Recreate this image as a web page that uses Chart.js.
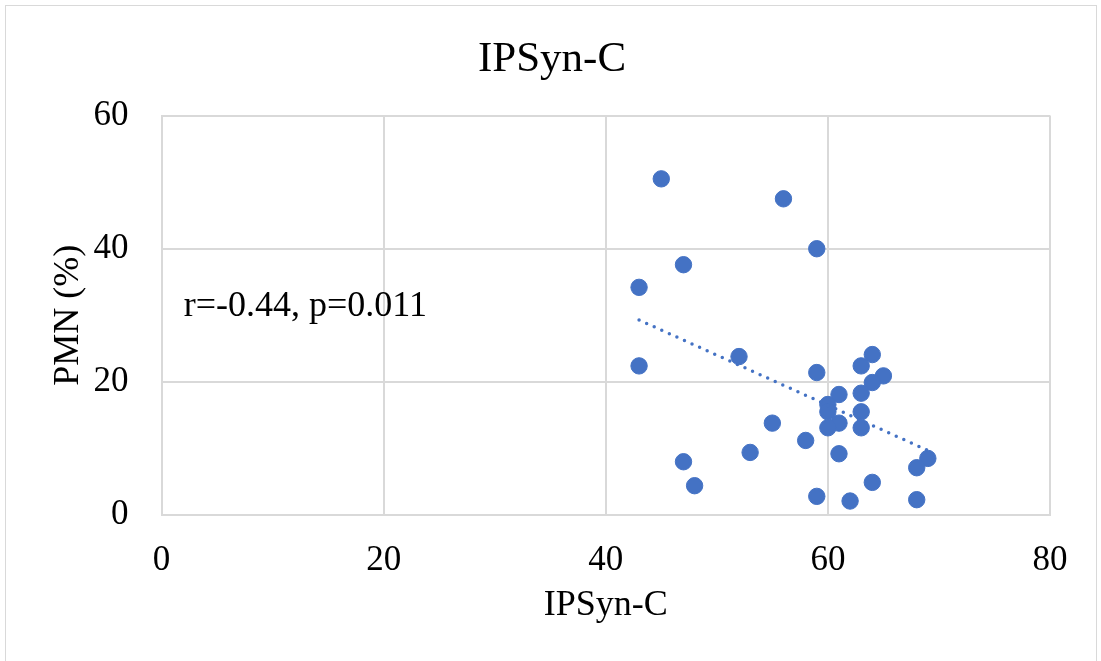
<!DOCTYPE html>
<html>
<head>
<meta charset="utf-8">
<title>IPSyn-C</title>
<script src="https://cdn.jsdelivr.net/npm/chart.js@4.4.0/dist/chart.umd.min.js"></script>
<style>
    html, body { margin: 0; padding: 0; background: #fff; }
    #frame {
        position: absolute; left: 5px; top: 5px; width: 1092px; height: 700px;
        border: 1.5px solid #d9d9d9; box-sizing: border-box;
    }
    #wrap { position: absolute; left: 0; top: 0; width: 1101px; height: 661px; }
</style>
</head>
<body>
<div id="frame"></div>
<div id="wrap"><canvas id="chart" width="1101" height="661"></canvas></div>
<script>
(function () {
    'use strict';

    // IPSyn-C score vs PMN (%) per child
    const ipsyn = [45, 56, 59, 47, 43, 43, 52, 59, 64, 63, 65, 64, 63, 61, 60, 60, 63,
                   61, 60, 63, 55, 58, 53, 61, 47, 48, 69, 68, 64, 59, 62, 68];
    const pmn   = [50.5, 47.5, 40, 37.6, 34.2, 22.4, 23.8, 21.4, 24.1, 22.4, 20.9, 19.9, 18.3,
                   18.1, 16.6, 15.5, 15.5, 13.8, 13.1, 13.1, 13.8, 11.2, 9.4, 9.2, 8.0, 4.4,
                   8.5, 7.1, 4.9, 2.8, 2.1, 2.3];

    // linear trendline ends as drawn in the picture
    const trendX = [43, 69];
    const trendY = [29.3, 9.7];

    const xTicks = [0, 20, 40, 60, 80];
    const yTicks = [0, 20, 40, 60];
    const stats = 'r=-0.44, p=0.011';

    const serif = "'Liberation Serif', 'Times New Roman', serif";
    const blue = '#4472C4';
    const grid = '#d9d9d9';

    // r/p annotation, placed in data units
    const statLabel = {
        id: 'statLabel',
        afterDatasetsDraw(chart) {
            const { ctx, scales: { x, y } } = chart;
            ctx.save();
            ctx.font = '36px ' + serif;
            ctx.fillStyle = '#000';
            ctx.textBaseline = 'middle';
            ctx.textAlign = 'left';
            ctx.fillText(stats, x.getPixelForValue(2), y.getPixelForValue(31.3));
            ctx.restore();
        },
    };

    new Chart(document.getElementById('chart'), {
        type: 'scatter',
        data: {
            datasets: [
                {
                    label: 'trend',
                    type: 'line',
                    data: trendX.map((v, i) => ({ x: v, y: trendY[i] })),
                    borderColor: blue,
                    borderWidth: 3.5,
                    borderDash: [0, 8.3],
                    borderCapStyle: 'round',
                    pointRadius: 0,
                    fill: false,
                    order: 0,
                },
                {
                    label: 'PMN',
                    data: ipsyn.map((v, i) => ({ x: v, y: pmn[i] })),
                    backgroundColor: blue,
                    borderColor: blue,
                    borderWidth: 1,
                    pointRadius: 8.2,
                    order: 1,
                },
            ],
        },
        options: {
            responsive: false,
            animation: false,
            // equal-ish side padding so the title centres on the whole frame
            layout: { padding: { left: 54, right: 51, top: 0, bottom: 31 } },
            plugins: {
                legend: { display: false },
                tooltip: { enabled: false },
                title: {
                    display: true,
                    text: 'IPSyn-C',
                    color: '#000',
                    font: { family: serif, size: 43, weight: 'normal', lineHeight: 1.2 },
                    padding: { top: 34, bottom: 30 },
                },
            },
            scales: {
                x: {
                    type: 'linear',
                    min: 0, max: 80,
                    afterBuildTicks: (s) => { s.ticks = xTicks.map(v => ({ value: v })); },
                    afterFit: (s) => { s.height = 115; },
                    grid: { color: grid, lineWidth: 2, drawTicks: false },
                    border: { color: grid, width: 2 },
                    ticks: { color: '#000', padding: 25, font: { family: serif, size: 35 } },
                    title: {
                        display: true, text: 'IPSyn-C', color: '#000',
                        font: { family: serif, size: 36, lineHeight: 1.2 },
                        padding: { top: 7, bottom: 3 },
                    },
                },
                y: {
                    type: 'linear',
                    min: 0, max: 60,
                    afterBuildTicks: (s) => { s.ticks = yTicks.map(v => ({ value: v })); },
                    afterFit: (s) => { s.width = 107.5; },
                    grid: { color: grid, lineWidth: 2, drawTicks: false },
                    border: { color: grid, width: 2 },
                    ticks: { color: '#000', padding: 33, font: { family: serif, size: 35 } },
                    title: {
                        display: true, text: 'PMN (%)', color: '#000',
                        font: { family: serif, size: 36, lineHeight: 1.2 },
                        padding: { top: -6.6, bottom: 4 },
                    },
                },
            },
        },
        plugins: [statLabel],
    });
})();
</script>
</body>
</html>
